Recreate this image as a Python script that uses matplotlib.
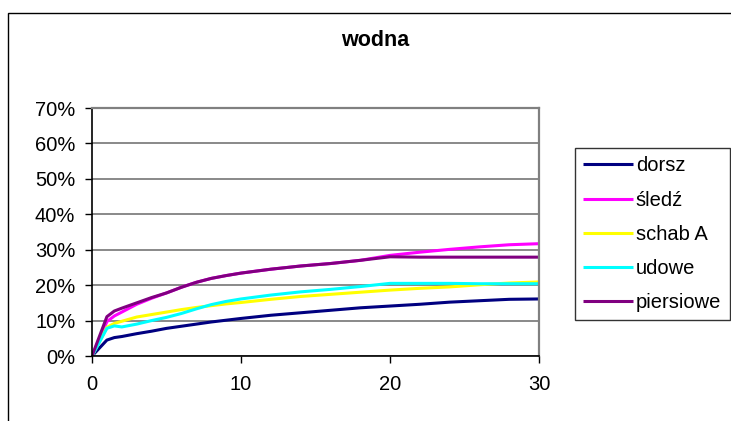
import matplotlib
matplotlib.use("Agg")
import matplotlib.pyplot as plt
from matplotlib.patches import Rectangle
from matplotlib.ticker import PercentFormatter

plt.rcParams['font.family'] = ['Liberation Sans', 'DejaVu Sans']

title = "wodna"
x = [0, 1, 1.5, 2, 3, 4, 5, 6, 7, 8, 9, 10, 12, 14, 16, 18, 20, 22, 24, 26, 28, 30]

dorsz = [0, 4.5, 5.2, 5.5, 6.3, 7.0, 7.8, 8.4, 9.0, 9.6, 10.1, 10.6, 11.5, 12.2,
         12.9, 13.6, 14.1, 14.6, 15.2, 15.6, 16.0, 16.1]
sledz = [0, 9.7, 11.3, 12.4, 14.6, 16.3, 17.8, 19.4, 20.8, 21.9, 22.7, 23.4, 24.5, 25.4,
         26.1, 27.0, 28.4, 29.3, 30.1, 30.8, 31.4, 31.7]
schab_a = [0, 8.1, 9.2, 9.8, 11.0, 11.7, 12.4, 13.1, 13.7, 14.2, 14.7, 15.1, 16.0, 16.8,
           17.4, 18.0, 18.6, 19.1, 19.5, 20.1, 20.6, 20.9]
udowe = [0, 7.8, 8.5, 8.2, 9.0, 10.0, 10.9, 12.0, 13.3, 14.5, 15.4, 16.1, 17.2, 18.1,
         18.8, 19.6, 20.5, 20.5, 20.5, 20.4, 20.4, 20.4]
piersiowe = [0, 11.1, 12.7, 13.5, 15.0, 16.5, 17.8, 19.4, 20.8, 21.9, 22.7, 23.4, 24.5, 25.4,
             26.1, 27.0, 28.0, 27.9, 27.9, 27.9, 27.9, 27.9]

series = [
    ("dorsz", dorsz, "#000080"),
    ("śledź", sledz, "#FF00FF"),
    ("schab A", schab_a, "#FFFF00"),
    ("udowe", udowe, "#00FFFF"),
    ("piersiowe", piersiowe, "#800080"),
]

W, H = 731, 421
FS = 14.5
fig = plt.figure(figsize=(W / 100, H / 100), dpi=100)

# chart frame
fig.patches.append(Rectangle((8 / W, -0.1), 1.2, 1 - 13 / H + 0.1, transform=fig.transFigure,
                             fill=False, edgecolor="black", linewidth=1.0))

ax = fig.add_axes([92 / W, 1 - 356 / H, (539 - 92) / W, (356 - 108) / H])
for name, vals, col in series:
    ax.plot(x, vals, color=col, linewidth=2.2, label=name, solid_capstyle="butt")

ax.set_xlim(0, 30)
ax.set_ylim(0, 70)
ax.set_xticks([0, 10, 20, 30])
ax.set_yticks(range(0, 71, 10))
ax.yaxis.set_major_formatter(PercentFormatter(decimals=0))
ax.grid(axis="y", color="#808080", linewidth=1.3)
ax.set_axisbelow(True)
ax.tick_params(axis="both", labelsize=FS, length=5, width=1.0, color="black")
ax.tick_params(axis="y", pad=7)
ax.tick_params(axis="x", pad=9)
for side in ("left", "bottom"):
    ax.spines[side].set_color("black")
    ax.spines[side].set_linewidth(1.2)
for side in ("top", "right"):
    ax.spines[side].set_color("#808080")
    ax.spines[side].set_linewidth(1.6)

fig.text(375 / W, 1 - 40 / H, title, ha="center", va="center", fontsize=15.5, fontweight="bold")

leg = fig.legend(loc="upper left", bbox_to_anchor=(575 / W, 1 - 148 / H), fontsize=FS,
                 frameon=True, fancybox=False, edgecolor="black", handlelength=2.45,
                 handletextpad=0.15, labelspacing=0.75, borderpad=0.42, borderaxespad=0)
leg.get_frame().set_linewidth(1.0)

fig.savefig("out.png", dpi=100)
